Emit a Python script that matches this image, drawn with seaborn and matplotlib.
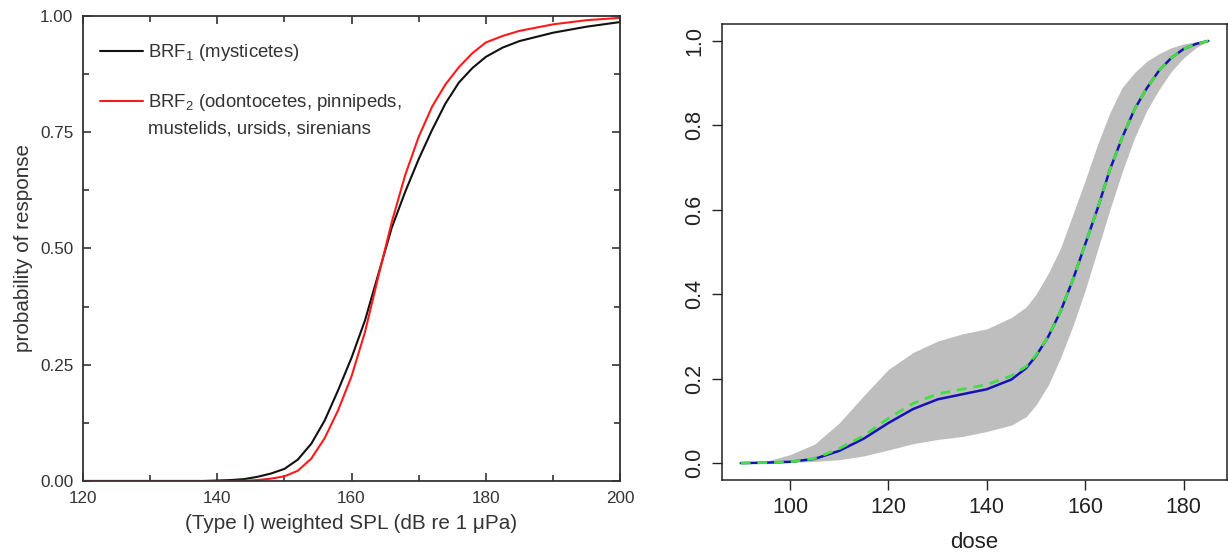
import numpy as np
import pandas as pd
import matplotlib
matplotlib.use('Agg')
import matplotlib.pyplot as plt
from matplotlib.ticker import MultipleLocator, FormatStrFormatter
import seaborn as sns

# ── DATA ──────────────────────────────────────────────────────────────────────
# left panel: behavioural response functions
spl = [120, 130, 138, 140, 142, 144, 146, 148, 150, 152, 154, 156, 158, 160,
       162, 164, 166, 168, 170, 172, 174, 176, 178, 180, 182.5, 185, 190,
       195, 200]
brf1 = [0.0, 0.0, 0.0, 0.001, 0.002, 0.004, 0.009, 0.016, 0.026, 0.046, 0.080,
        0.130, 0.195, 0.265, 0.345, 0.445, 0.545, 0.622, 0.692, 0.755, 0.812,
        0.857, 0.888, 0.912, 0.932, 0.946, 0.964, 0.977, 0.987]
brf2 = [0.0, 0.0, 0.0, 0.0, 0.0, 0.0005, 0.002, 0.005, 0.010, 0.022, 0.048,
        0.092, 0.152, 0.225, 0.320, 0.440, 0.557, 0.658, 0.740, 0.805, 0.853,
        0.890, 0.920, 0.943, 0.957, 0.968, 0.982, 0.991, 0.996]
brf1_label = "BRF$_\\mathregular{1}$ (mysticetes)"
brf2_label = "BRF$_\\mathregular{2}$ (odontocetes, pinnipeds,"
brf2_label_cont = "mustelids, ursids, sirenians"

# right panel: dose-response with credible band
dose = [90, 95, 100, 105, 110, 115, 120, 125, 130, 135, 140, 145, 148, 150,
        152.5, 155, 157.5, 160, 162.5, 165, 167.5, 170, 172.5, 175, 177.5,
        180, 182.5, 185]
resp_blue = [0.0, 0.001, 0.003, 0.010, 0.029, 0.058, 0.095, 0.128, 0.151,
             0.163, 0.175, 0.198, 0.225, 0.254, 0.300, 0.360, 0.435, 0.519,
             0.603, 0.695, 0.771, 0.838, 0.888, 0.930, 0.960, 0.981, 0.993, 1.0]
resp_green = [0.0, 0.001, 0.003, 0.011, 0.034, 0.065, 0.106, 0.141, 0.164,
              0.175, 0.186, 0.207, 0.229, 0.256, 0.300, 0.360, 0.435, 0.519,
              0.603, 0.695, 0.771, 0.838, 0.888, 0.930, 0.960, 0.981, 0.993, 1.0]
band_hi = [0.0, 0.004, 0.020, 0.045, 0.095, 0.160, 0.222, 0.262, 0.289, 0.306,
           0.318, 0.345, 0.370, 0.400, 0.450, 0.510, 0.590, 0.670, 0.755,
           0.830, 0.890, 0.925, 0.952, 0.970, 0.984, 0.993, 0.998, 1.0]
band_lo = [0.0, 0.0, 0.002, 0.004, 0.008, 0.017, 0.031, 0.046, 0.056, 0.063,
           0.075, 0.090, 0.110, 0.138, 0.185, 0.250, 0.325, 0.410, 0.505,
           0.600, 0.690, 0.770, 0.835, 0.885, 0.928, 0.960, 0.984, 1.0]
# ─────────────────────────────────────────────────────────────────────────────

sns.set_theme(style='ticks')
plt.rcParams['font.family'] = ['Liberation Sans', 'DejaVu Sans']
plt.rcParams['mathtext.fontset'] = 'custom'
plt.rcParams['mathtext.rm'] = 'Liberation Sans'
plt.rcParams['mathtext.it'] = 'Liberation Sans:italic'

TXT = '#333333'

fig = plt.figure(figsize=(12.28, 5.54), dpi=100)
ax1 = fig.add_axes([0.0676, 0.1318, 0.4373, 0.8393])
ax2 = fig.add_axes([0.5880, 0.1336, 0.4112, 0.8230])

# ── left panel ──
df_brf = pd.DataFrame({'spl': spl, 'brf1': brf1, 'brf2': brf2})
sns.lineplot(data=df_brf, x='spl', y='brf1', color='#111111', lw=1.5,
             ax=ax1, label=brf1_label)
sns.lineplot(data=df_brf, x='spl', y='brf2', color='#ff1a1a', lw=1.5,
             ax=ax1, label=brf2_label)
ax1.set_xlim(120, 200)
ax1.set_ylim(0, 1)
ax1.xaxis.set_major_locator(MultipleLocator(20))
ax1.xaxis.set_minor_locator(MultipleLocator(10))
ax1.yaxis.set_major_locator(MultipleLocator(0.25))
ax1.yaxis.set_minor_locator(MultipleLocator(0.125))
ax1.yaxis.set_major_formatter(FormatStrFormatter('%.2f'))
ax1.tick_params(axis='both', which='major', direction='in', top=True,
                right=True, bottom=True, left=True, color='#333333',
                width=1.2, length=6, pad=7, labelsize=12.3, labelcolor=TXT)
ax1.tick_params(axis='both', which='minor', direction='in', top=True,
                right=True, bottom=True, left=True, color='#333333',
                width=1.2, length=4)
for s in ax1.spines.values():
    s.set_color('#333333')
    s.set_linewidth(1.3)
ax1.set_xlabel('(Type I) weighted SPL (dB re 1 μPa)', fontsize=14.9,
               color=TXT, labelpad=6)
ax1.set_ylabel('probability of response', fontsize=14.9, color=TXT,
               labelpad=5)
leg = ax1.legend(loc='upper left', bbox_to_anchor=(0.031, 0.944),
                 frameon=False, fontsize=13.4, handlelength=2.31,
                 handletextpad=0.27, labelspacing=1.56, borderpad=0,
                 borderaxespad=0)
for t in leg.get_texts():
    t.set_color(TXT)
ax1.text(0.121, 0.758, brf2_label_cont, transform=ax1.transAxes,
         fontsize=13.4, color=TXT, va='center', ha='left')

# ── right panel ──
df_dose = pd.DataFrame({'dose': dose, 'blue': resp_blue, 'green': resp_green,
                        'hi': band_hi, 'lo': band_lo})
ax2.fill_between(df_dose['dose'], df_dose['lo'], df_dose['hi'],
                 color='#bebebe', lw=0)
sns.lineplot(data=df_dose, x='dose', y='blue', color='#1414b4', lw=1.8, ax=ax2)
sns.lineplot(data=df_dose, x='dose', y='green', color='#44dd44', lw=2.0,
             ax=ax2, dashes=False, linestyle=(0, (3.5, 2.5)))
ax2.set_xlim(86.2, 188.8)
ax2.set_ylim(-0.04, 1.04)
ax2.set_xticks([100, 120, 140, 160, 180])
ax2.set_yticks([0.0, 0.2, 0.4, 0.6, 0.8, 1.0])
ax2.yaxis.set_major_formatter(FormatStrFormatter('%.1f'))
ax2.tick_params(direction='out', length=7, width=1, color='#222222',
                labelsize=15.5, labelcolor='#222222', pad=5,
                bottom=True, left=True, top=False, right=False)
for lab in ax2.get_yticklabels():
    lab.set_rotation(90)
    lab.set_va('center')
for s in ax2.spines.values():
    s.set_visible(True)
    s.set_color('#222222')
    s.set_linewidth(1.1)
ax2.set_xlabel('dose', fontsize=16, color='#222222', labelpad=10)
ax2.set_ylabel('')

fig.savefig('out.png', dpi=100)
